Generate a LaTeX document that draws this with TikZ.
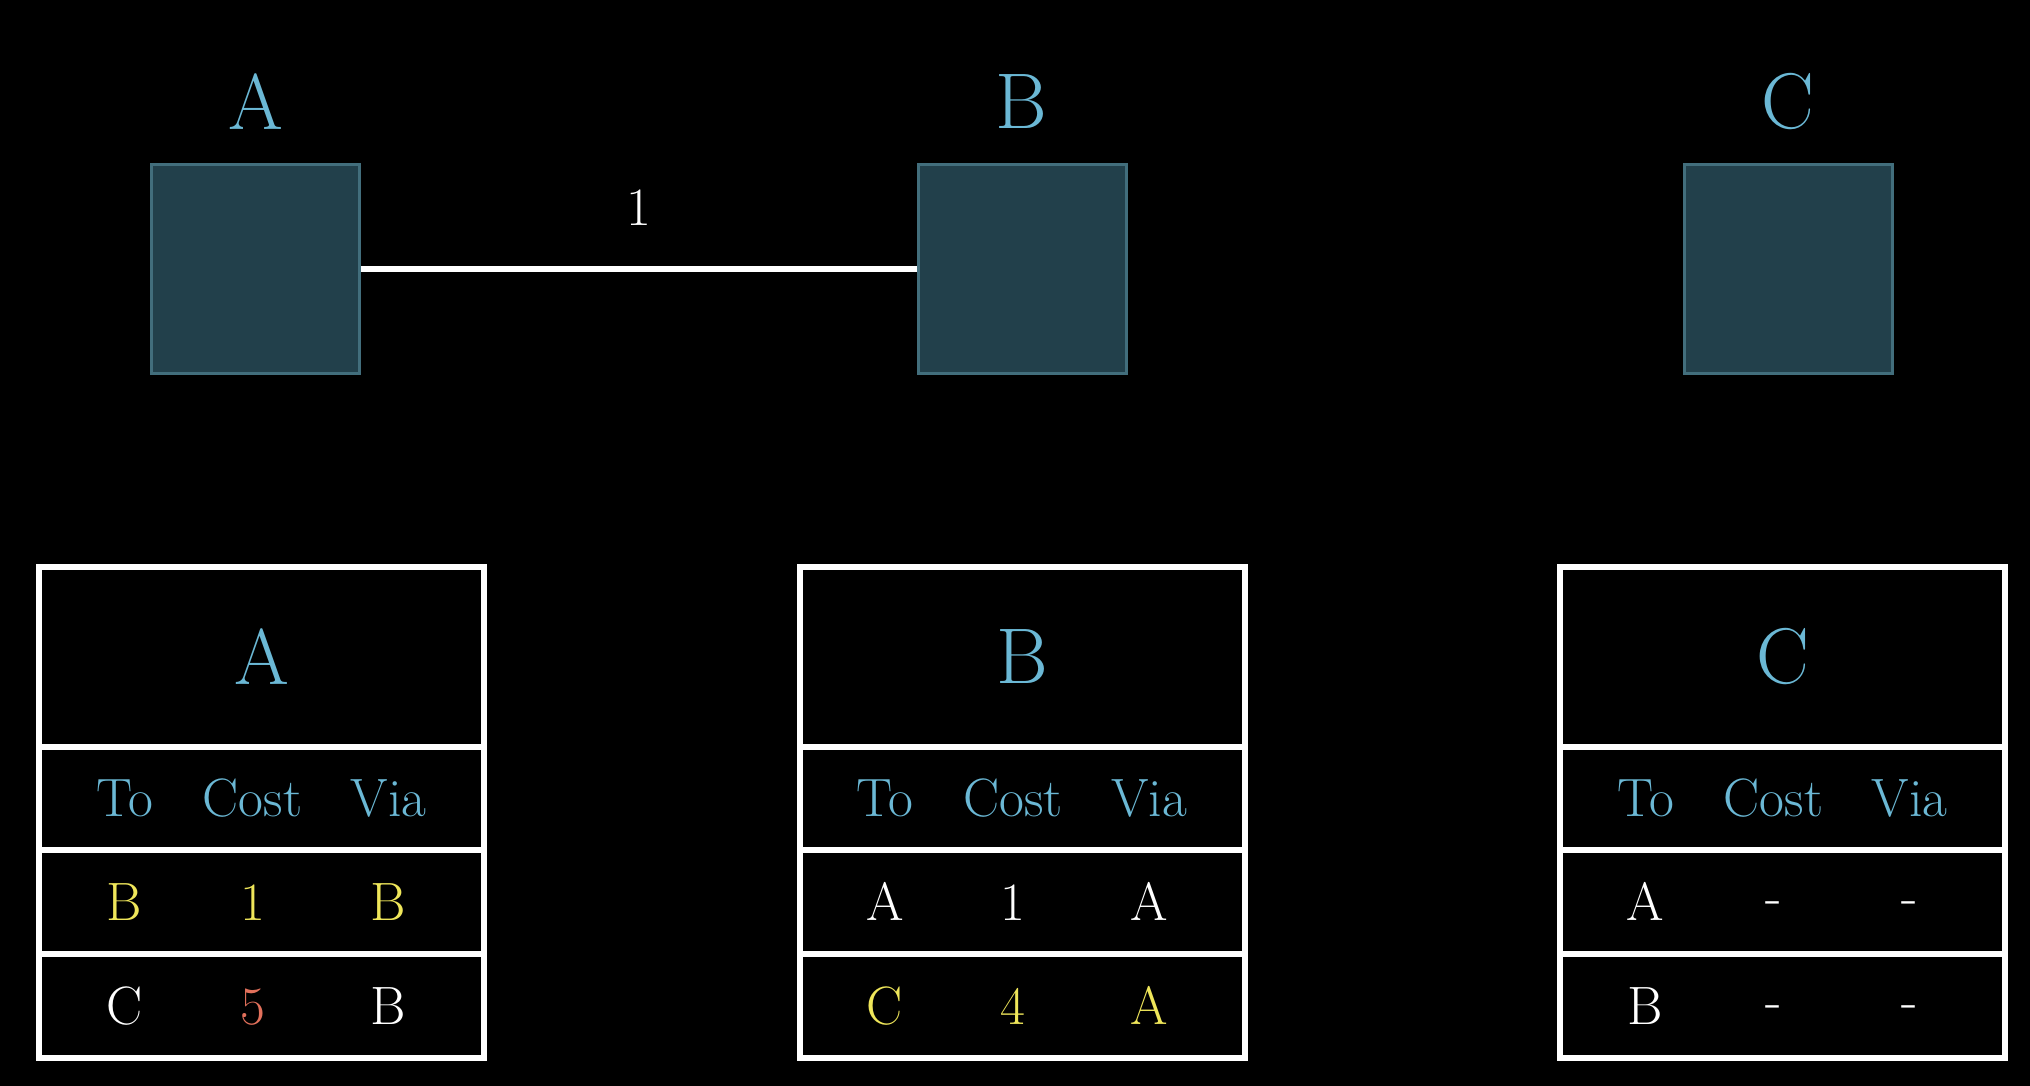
\documentclass[tikz,border=0pt]{standalone}
\definecolor{lblue}{HTML}{6BB8D5}
\definecolor{boxfill}{HTML}{22404B}
\definecolor{boxline}{HTML}{426E7C}
\definecolor{tyellow}{HTML}{EFE65A}
\definecolor{tred}{HTML}{E2705B}
\newcommand{\nodash}{\raisebox{3pt}{-}}
\newcommand{\routetable}[9]{%
  \node[cellbox, minimum height=90pt] (#1title) at (#2,657) {};
  \node[cellbox, minimum height=51.5pt] (#1head) at (#2,798.5) {};
  \node[cellbox, minimum height=52pt] (#1rowa) at (#2,902) {};
  \node[cellbox, minimum height=52pt] (#1rowb) at (#2,1006) {};
  \node[titletxt] (#1name) at (#1title.center) {#3};
  \node[headtxt] (#1to) at ({#2-137},798.5) {To};
  \node[headtxt] (#1cost) at ({#2-9},798.5) {Cost};
  \node[headtxt] (#1via) at ({#2+127},798.5) {Via};
  \node[celltxt] (#1ato) at ({#2-137},902) {#4};
  \node[celltxt] (#1acost) at ({#2-9},902) {#5};
  \node[celltxt] (#1avia) at ({#2+127},902) {#6};
  \node[celltxt] (#1bto) at ({#2-137},1006) {#7};
  \node[celltxt] (#1bcost) at ({#2-9},1006) {#8};
  \node[celltxt] (#1bvia) at ({#2+127},1006) {#9};
}
\begin{document}
\begin{tikzpicture}[x=0.5pt,y=-0.5pt,
  netbox/.style={draw=boxline, fill=boxfill, line width=1.5pt, minimum size=104pt, inner sep=0pt},
  toplabel/.style={text=lblue, font=\fontsize{39.5}{40}\selectfont, inner sep=0pt},
  titletxt/.style={text=lblue, font=\fontsize{39.5}{40}\selectfont, inner sep=0pt},
  edge/.style={draw=white, line width=3pt},
  edgelabel/.style={text=white, font=\fontsize{27}{28}\selectfont, inner sep=0pt},
  cellbox/.style={draw=white, line width=3pt, minimum width=222.5pt, inner sep=0pt},
  headtxt/.style={text=lblue, font=\fontsize{27}{28}\selectfont, inner sep=0pt, text height=18.4pt, text depth=0pt},
  celltxt/.style={text=white, font=\fontsize{27}{28}\selectfont, inner sep=0pt, text height=18.4pt, text depth=0pt}]
\fill[black] (0,0) rectangle (2030,1086);
\useasboundingbox (0,0) rectangle (2030,1086);

\node[netbox] (nA) at (255.5,269) {};
\node[netbox] (nB) at (1022.5,269) {};
\node[netbox] (nC) at (1788.5,269) {};
\node[toplabel] (lA) at (256,101.5) {A};
\node[toplabel] (lB) at (1021,101.5) {B};
\node[toplabel] (lC) at (1788,101.5) {C};

\draw[edge] (nA) -- node[edgelabel, midway, yshift=30.75pt] (wAB) {1} (nB);

\routetable{tA}{261.5}{A}{\color{tyellow}B}{\color{tyellow}1}{\color{tyellow}B}{C}{\color{tred}5}{B}
\routetable{tB}{1022}{B}{A}{1}{A}{\color{tyellow}C}{\color{tyellow}4}{\color{tyellow}A}
\routetable{tC}{1782.5}{C}{A}{\nodash}{\nodash}{B}{\nodash}{\nodash}
\end{tikzpicture}
\end{document}
